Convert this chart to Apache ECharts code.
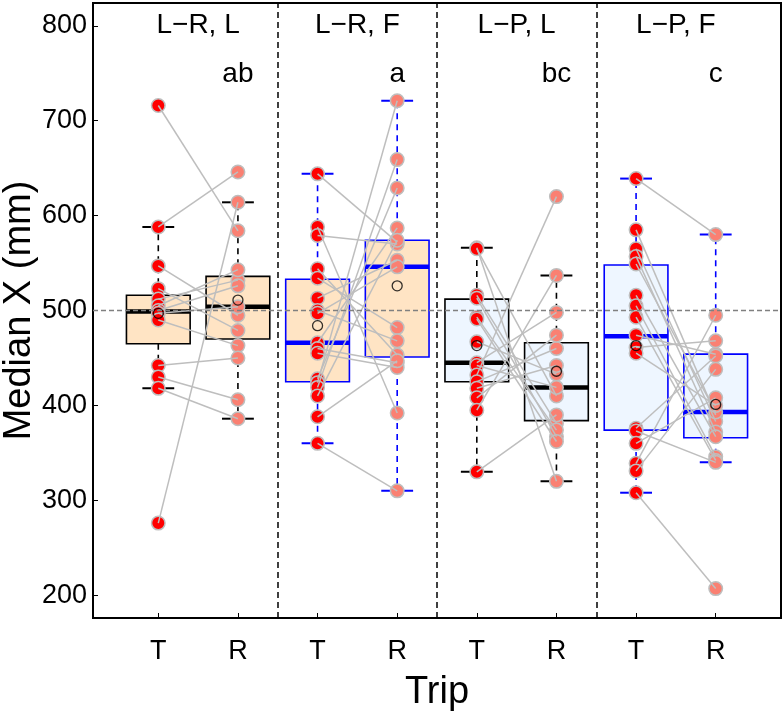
<!DOCTYPE html>
<html>
<head>
<meta charset="utf-8">
<script src="https://cdn.jsdelivr.net/npm/echarts@6/dist/echarts.min.js"></script>
<style>
html, body { margin: 0; padding: 0; background: #fff; }
#chart { width: 784px; height: 714px; }
</style>
</head>
<body>
<div id="chart"></div>
<script>
// panels, letters and tick labels
const panels = ['L\u2212R, L', 'L\u2212R, F', 'L\u2212P, L', 'L\u2212P, F']
const letters = ['ab', 'a', 'bc', 'c']
const tripLabels = ['T', 'R', 'T', 'R', 'T', 'R', 'T', 'R']
const yTicks = [200, 300, 400, 500, 600, 700, 800]

// box stats, 8 boxes left to right
const whiskLow = [418, 386, 360, 310, 330, 320, 308, 340]
const q1 = [465, 470, 425, 451, 425, 384, 374, 366]
const median = [499, 504, 466, 546, 445, 419, 473, 393]
const q3 = [516, 536, 533, 574, 512, 466, 548, 454]
const whiskHigh = [588, 614, 644, 721, 566, 537, 639, 580]
const means = [497, 511, 484, 526, 463, 436, 463, 401]

// individual values per panel, T[i] pairs with R[i]
const tripT = [
  [716, 588, 547, 523, 512, 505, 500, 497, 490, 442, 430, 418, 276],
  [644, 588, 579, 544, 534, 513, 500, 497, 466, 460, 455, 428, 424, 419, 410, 388, 360],
  [566, 565, 516, 513, 493, 491, 467, 445, 442, 432, 425, 418, 408, 395, 330],
  [639, 585, 565, 557, 549, 516, 505, 493, 474, 461, 455, 376, 373, 360, 339, 331, 308]
]
const tripR = [
  [584, 646, 495, 479, 532, 543, 526, 504, 463, 450, 406, 386, 614],
  [572, 392, 570, 453, 482, 553, 468, 546, 587, 445, 440, 629, 721, 659, 574, 447, 310],
  [320, 410, 381, 367, 374, 362, 433, 498, 419, 620, 460, 442, 474, 537, 390],
  [580, 390, 383, 372, 393, 367, 346, 342, 454, 468, 400, 452, 340, 408, 495, 438, 207]
]

const boxStroke = ['#000000', '#0000FF', '#000000', '#0000FF']
const boxFill = ['#FFE4C4', '#FFE4C4', '#EEF6FF', '#EEF6FF']
const font = 'Liberation Sans, Arial, sans-serif'

const chart = echarts.init(document.getElementById('chart'))

const boxData = median.map((m, i) => [i + 1, whiskLow[i], q1[i], m, q3[i], whiskHigh[i]])

const renderBox = (params, api) => {
  const x = api.value(0)
  const k = Math.floor(params.dataIndex / 2)
  const col = boxStroke[k]
  const p = (dx, v) => api.coord([x + dx, v])
  const tl = p(-0.4, api.value(4)), br = p(0.4, api.value(2))
  const line = (a, b, w, dash) => ({
    type: 'line',
    shape: { x1: a[0], y1: a[1], x2: b[0], y2: b[1] },
    style: { stroke: col, lineWidth: w, lineDash: dash || null }
  })
  return {
    type: 'group',
    children: [
      line(p(0, api.value(4)), p(0, api.value(5)), 1.6, [6, 5]),
      line(p(0, api.value(2)), p(0, api.value(1)), 1.6, [6, 5]),
      line(p(-0.2, api.value(5)), p(0.2, api.value(5)), 2),
      line(p(-0.2, api.value(1)), p(0.2, api.value(1)), 2),
      {
        type: 'rect',
        shape: { x: tl[0], y: tl[1], width: br[0] - tl[0], height: br[1] - tl[1] },
        style: { fill: boxFill[k], stroke: col, lineWidth: 1.6 }
      },
      line(p(-0.4, api.value(3)), p(0.4, api.value(3)), 4.5)
    ]
  }
}

const textData = panels.map((t, i) => [2 * i + 1.5, 800, t, 28])
  .concat(letters.map((t, i) => [2 * i + 2, 749, t, 28]))

const renderText = (params, api) => {
  const pt = api.coord([api.value(0), api.value(1)])
  const d = textData[params.dataIndex]
  return {
    type: 'text',
    x: pt[0], y: pt[1],
    style: { text: d[2], fill: '#000', font: d[3] + 'px ' + font, align: 'center', verticalAlign: 'middle' }
  }
}

const pairLines = tripT.flatMap((arr, k) => arr.map((v, j) => ({ coords: [[2 * k + 1, v], [2 * k + 2, tripR[k][j]]] })))

chart.setOption({
  animation: false,
  backgroundColor: '#fff',
  textStyle: { fontFamily: font },
  grid: {
    left: 93, right: 3, top: 3, bottom: 96, containLabel: false, outerBoundsMode: 'none',
    show: true, borderColor: '#000', borderWidth: 2, backgroundColor: 'transparent'
  },
  xAxis: {
    type: 'value', min: 0.18, max: 8.82,
    splitLine: { show: false },
    axisLine: { show: false },
    axisTick: { show: true, inside: true, length: 5, customValues: [1, 2, 3, 4, 5, 6, 7, 8], lineStyle: { color: '#000' } },
    axisLabel: { customValues: [1, 2, 3, 4, 5, 6, 7, 8], formatter: v => tripLabels[Math.round(v) - 1], fontSize: 27, color: '#000', margin: 20 },
    name: 'Trip', nameLocation: 'middle', nameGap: 56, nameMoveOverlap: false,
    nameTextStyle: { fontSize: 38, color: '#000' }
  },
  yAxis: {
    type: 'value', min: 176, max: 824,
    splitLine: { show: false },
    axisLine: { show: false },
    axisTick: { show: true, inside: true, length: 5, customValues: yTicks, lineStyle: { color: '#000' } },
    axisLabel: { customValues: yTicks, fontSize: 27, color: '#000', margin: 6 },
    name: 'Median X (mm)', nameLocation: 'middle', nameGap: 54, nameMoveOverlap: false,
    nameTextStyle: { fontSize: 38, color: '#000' }
  },
  series: [
    {
      type: 'custom', z: 1, data: boxData, renderItem: renderBox,
      encode: { x: 0, y: [1, 2, 3, 4, 5] },
      markLine: {
        silent: true, symbol: 'none', label: { show: false },
        data: [
          { xAxis: 2.5, lineStyle: { color: '#000', type: [6, 4], width: 1.5 } },
          { xAxis: 4.5, lineStyle: { color: '#000', type: [6, 4], width: 1.5 } },
          { xAxis: 6.5, lineStyle: { color: '#000', type: [6, 4], width: 1.5 } },
          { yAxis: 500, lineStyle: { color: '#808080', type: [5, 3], width: 1.3 } }
        ]
      }
    },
    {
      type: 'scatter', z: 2, symbolSize: 13.5,
      data: tripT.flatMap((arr, k) => arr.map(v => [2 * k + 1, v])),
      itemStyle: { color: '#FF0000', borderColor: '#BEBEBE', borderWidth: 1.5, opacity: 1 }
    },
    {
      type: 'scatter', z: 2, symbolSize: 13.5,
      data: tripR.flatMap((arr, k) => arr.map(v => [2 * k + 2, v])),
      itemStyle: { color: '#FA8072', borderColor: '#BEBEBE', borderWidth: 1.5, opacity: 1 }
    },
    {
      type: 'lines', coordinateSystem: 'cartesian2d', z: 3, data: pairLines,
      lineStyle: { color: '#BEBEBE', width: 1.5, opacity: 1 }
    },
    {
      type: 'scatter', z: 4, symbolSize: 10,
      data: means.map((v, i) => [i + 1, v]),
      itemStyle: { color: 'rgba(0,0,0,0)', borderColor: '#000', borderWidth: 1.3 }
    },
    {
      type: 'custom', z: 5, data: textData.map(d => [d[0], d[1]]), renderItem: renderText,
      encode: { x: 0, y: 1 }
    }
  ]
})
</script>
</body>
</html>
